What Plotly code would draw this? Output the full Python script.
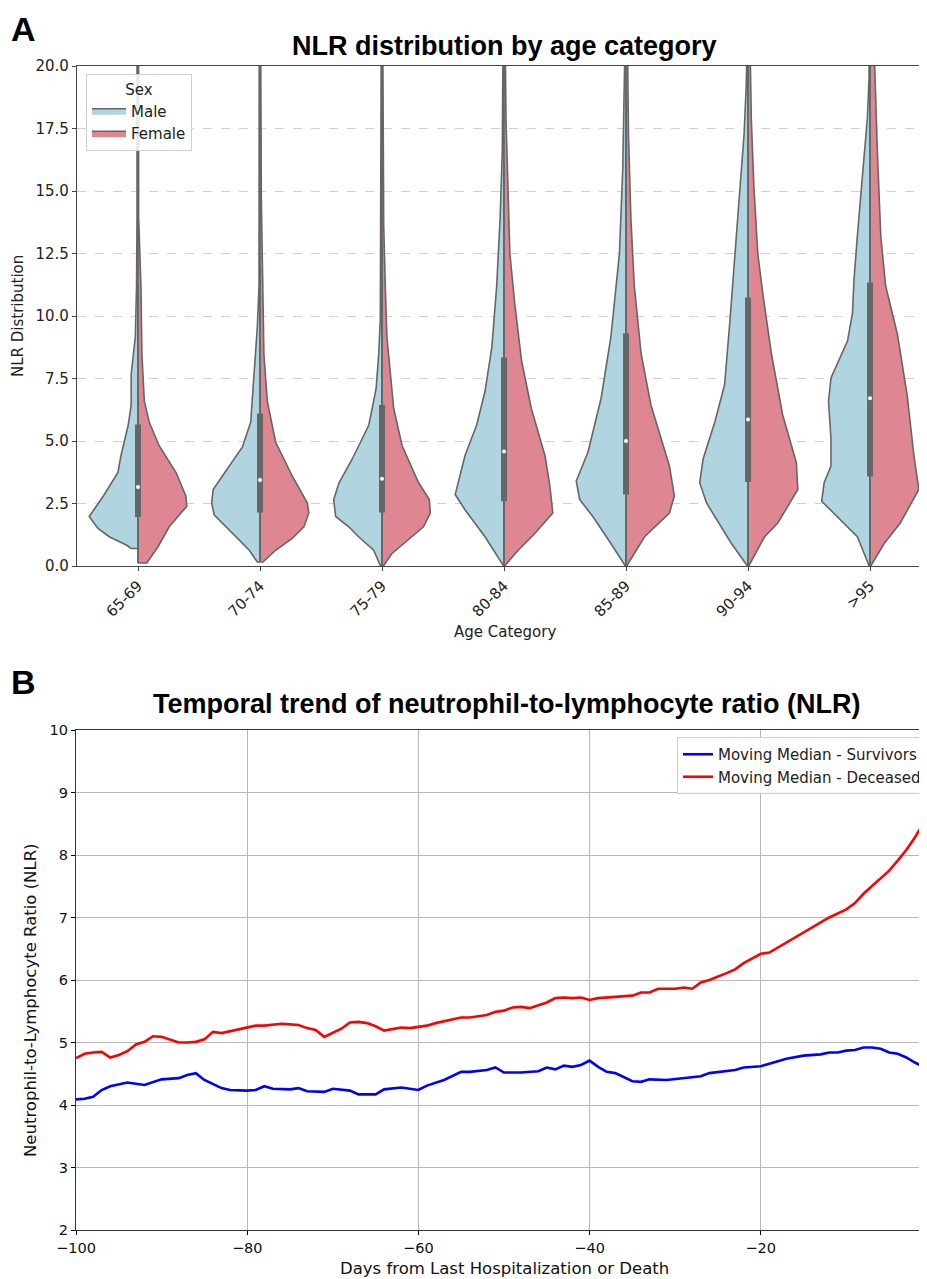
import plotly.graph_objects as go

# ---------------- Panel A data ----------------
CATEGORIES = ["65-69", "70-74", "75-79", "80-84", "85-89", "90-94", ">95"]

# density profiles (NLR value, relative density) for each half-violin
MALE_NLR = [
    [0.70, 0.84, 1.17, 1.50, 1.98, 2.8, 3.74, 4.41, 5.64, 6.44, 7.66, 8.2, 9.16, 11.2, 14.0, 21.0],
    [0.16, 0.63, 1.30, 2.05, 2.52, 3.06, 3.8, 4.76, 5.76, 6.58, 7.8, 9.56, 11.2, 21.0],
    [0.02, 0.63, 1.17, 1.57, 1.98, 2.66, 3.33, 4.28, 5.64, 7.1, 8.5, 9.84, 21.0],
    [0.02, 1.17, 2.25, 2.86, 4.41, 5.64, 6.98, 8.74, 11.2, 13.9, 16.6, 21.0],
    [0.02, 0.9, 1.98, 2.66, 3.4, 4.55, 6.71, 9.16, 12.5, 15.9, 18.6, 21.0],
    [0.02, 0.9, 2.52, 3.33, 4.28, 5.76, 7.25, 9.82, 12.5, 15.2, 17.3, 19.3, 21.0],
    [0.02, 1.17, 1.98, 2.59, 3.33, 4.0, 5.09, 6.58, 7.52, 9.01, 10.1, 11.4, 13.2, 16.6, 17.9, 19.5, 21.0],
]
MALE_DENSITY = [
    [0.14, 0.24, 0.59, 0.82, 1.0, 0.71, 0.41, 0.35, 0.20, 0.14, 0.14, 0.11, 0.055, 0.03, 0.02, 0.02],
    [0.055, 0.22, 0.57, 0.94, 0.99, 0.96, 0.70, 0.36, 0.19, 0.16, 0.12, 0.055, 0.02, 0.016],
    [0.035, 0.17, 0.48, 0.68, 0.95, 0.99, 0.88, 0.61, 0.27, 0.12, 0.067, 0.035, 0.016],
    [0.014, 0.39, 0.80, 1.0, 0.80, 0.56, 0.39, 0.25, 0.15, 0.08, 0.035, 0.02],
    [0.02, 0.31, 0.68, 0.95, 1.02, 0.78, 0.51, 0.31, 0.135, 0.067, 0.033, 0.02],
    [0.02, 0.34, 0.85, 0.99, 0.92, 0.68, 0.48, 0.37, 0.27, 0.17, 0.08, 0.035, 0.02],
    [0.02, 0.26, 0.67, 0.99, 0.94, 0.80, 0.80, 0.85, 0.80, 0.46, 0.36, 0.33, 0.26, 0.12, 0.055, 0.02, 0.016],
]
FEMALE_NLR = [
    [0.12, 0.77, 1.57, 2.12, 2.38, 2.8, 3.74, 4.82, 5.76, 6.58, 8.48, 11.2, 13.1, 14.0, 21.0],
    [0.16, 0.63, 1.1, 1.57, 2.12, 2.52, 3.6, 4.96, 6.58, 8.48, 12.5, 14.7, 21.0],
    [0.02, 0.49, 1.04, 1.57, 2.12, 2.66, 3.33, 4.82, 6.3, 7.66, 9.16, 11.2, 13.6, 21.0],
    [0.02, 0.63, 1.3, 2.12, 3.2, 4.41, 6.3, 8.2, 10.5, 12.5, 15.2, 17.9, 21.0],
    [0.02, 1.17, 2.12, 2.8, 4.0, 6.44, 8.48, 11.2, 13.9, 17.3, 21.0],
    [0.02, 1.17, 1.72, 3.06, 4.14, 6.04, 8.48, 10.8, 12.5, 15.2, 17.9, 21.0],
    [0.02, 0.9, 1.72, 3.06, 4.41, 6.85, 9.28, 11.2, 13.2, 16.6, 21.0],
]
FEMALE_DENSITY = [
    [0.18, 0.41, 0.64, 0.88, 1.0, 0.98, 0.78, 0.43, 0.23, 0.13, 0.08, 0.06, 0.027, 0.012, 0.012],
    [0.06, 0.32, 0.66, 0.90, 1.0, 0.97, 0.66, 0.32, 0.15, 0.08, 0.047, 0.027, 0.014],
    [0.035, 0.20, 0.54, 0.85, 0.99, 0.97, 0.75, 0.41, 0.24, 0.17, 0.10, 0.067, 0.035, 0.016],
    [0.02, 0.29, 0.63, 1.0, 0.94, 0.84, 0.56, 0.36, 0.22, 0.12, 0.073, 0.04, 0.025],
    [0.02, 0.38, 0.89, 0.99, 0.89, 0.51, 0.31, 0.17, 0.10, 0.05, 0.03],
    [0.02, 0.34, 0.61, 1.02, 0.99, 0.71, 0.48, 0.31, 0.20, 0.12, 0.067, 0.04],
    [0.02, 0.29, 0.62, 1.0, 0.90, 0.76, 0.56, 0.32, 0.22, 0.15, 0.08],
]
Q1 = [1.96, 2.14, 2.14, 2.59, 2.86, 3.36, 3.58]
MEDIAN = [3.16, 3.44, 3.49, 4.58, 5.00, 5.86, 6.71]
Q3 = [5.66, 6.10, 6.44, 8.34, 9.31, 10.74, 11.34]
WHISKER_LO = [0.12, 0.16, 0.02, 0.02, 0.02, 0.02, 0.02]
WHISKER_HI = [11.2, 12.0, 12.9, 16.0, 19.0, 20.0, 20.0]

# ---------------- Panel B data ----------------
DAYS_SURV = [-100, -99, -98, -97, -96, -94, -92, -90, -88, -87, -86, -85, -83, -82, -80, -79, -78,
             -77, -75, -74, -73, -71, -70, -68, -67, -65, -64, -62, -60, -59, -57, -55, -54, -52,
             -51, -50, -48, -46, -45, -44, -43, -42, -41, -40, -39, -38, -37, -36, -35, -34, -33,
             -31, -29, -28, -27, -26, -24, -23, -22, -20, -19, -17, -15, -13, -12, -11, -10, -9,
             -8, -7, -6, -5, -4, -3, -2, -1, 0]
NLR_SURV = [4.09, 4.10, 4.13, 4.24, 4.30, 4.36, 4.32, 4.41, 4.43, 4.48, 4.51, 4.40, 4.27, 4.24,
            4.23, 4.24, 4.30, 4.26, 4.25, 4.27, 4.22, 4.21, 4.26, 4.23, 4.17, 4.17, 4.25, 4.28,
            4.24, 4.31, 4.40, 4.53, 4.53, 4.56, 4.60, 4.52, 4.52, 4.54, 4.60, 4.57, 4.63, 4.61,
            4.64, 4.71, 4.61, 4.53, 4.51, 4.44, 4.38, 4.37, 4.41, 4.40, 4.43, 4.44, 4.46, 4.51,
            4.55, 4.56, 4.60, 4.62, 4.66, 4.74, 4.79, 4.81, 4.84, 4.84, 4.87, 4.88, 4.92, 4.92,
            4.90, 4.84, 4.82, 4.76, 4.68, 4.62, 4.55]
DAYS_DEC = [-100, -99, -98, -97, -96, -95, -94, -93, -92, -91, -90, -89, -88, -87, -86, -85, -84,
            -83, -82, -80, -79, -78, -77, -76, -75, -74, -73, -72, -71, -70, -69, -68, -67, -66,
            -65, -64, -63, -62, -61, -60, -59, -58, -57, -56, -55, -54, -52, -51, -50, -49, -48,
            -47, -46, -45, -44, -43, -42, -41, -40, -39, -37, -35, -34, -33, -32, -30, -29, -28,
            -27, -26, -24, -23, -22, -21, -20, -19, -18, -17, -16, -14, -13, -12, -10, -9, -8,
            -7, -6, -5, -4, -3, -2, -1, 0]
NLR_DEC = [4.75, 4.82, 4.84, 4.85, 4.76, 4.80, 4.86, 4.97, 5.01, 5.10, 5.09, 5.04, 5.00, 5.00,
           5.01, 5.05, 5.17, 5.15, 5.18, 5.24, 5.27, 5.27, 5.28, 5.30, 5.29, 5.28, 5.23, 5.20,
           5.09, 5.15, 5.22, 5.32, 5.33, 5.31, 5.26, 5.19, 5.22, 5.24, 5.23, 5.25, 5.27, 5.31,
           5.34, 5.36, 5.40, 5.40, 5.44, 5.49, 5.51, 5.56, 5.57, 5.55, 5.60, 5.64, 5.71, 5.72,
           5.71, 5.72, 5.68, 5.71, 5.73, 5.75, 5.80, 5.80, 5.86, 5.86, 5.88, 5.86, 5.96, 6.00,
           6.11, 6.17, 6.27, 6.35, 6.42, 6.44, 6.52, 6.60, 6.69, 6.84, 6.93, 7.00, 7.13, 7.23,
           7.38, 7.50, 7.62, 7.75, 7.91, 8.08, 8.28, 8.50, 8.78]

# ---------------- styles ----------------
FONT = "DejaVu Sans"
TITLE_FONT = "Liberation Sans"
MALE_COLOR = "#b1d5e0"
FEMALE_COLOR = "#de8691"
EDGE = "#666666"
HALF_WIDTH = 0.4
OFF = 8                      # page body margin
W, H = 927 - OFF, 1279 - OFF


def sx(p):  # screen column -> paper x
    return (p - OFF) / W


def sy(p):  # screen row -> paper y
    return 1 - (p - OFF) / H


fig = go.Figure()

for i, cat in enumerate(CATEGORIES):
    for side, ys_all, ds_all, color, name in [
        (-1, MALE_NLR, MALE_DENSITY, MALE_COLOR, "Male"),
        (1, FEMALE_NLR, FEMALE_DENSITY, FEMALE_COLOR, "Female"),
    ]:
        ys = ys_all[i]
        ds = ds_all[i]
        xs = [i] + [i + side * d * HALF_WIDTH for d in ds] + [i, i]
        yy = [ys[0]] + list(ys) + [ys[-1], ys[0]]
        fig.add_trace(go.Scatter(
            x=xs, y=yy, mode="lines", fill="toself", fillcolor=color,
            line=dict(color=EDGE, width=1.6), name=name, legendgroup=name,
            showlegend=(i == 0), legend="legend", xaxis="x", yaxis="y",
            hoverinfo="skip"))
    fig.add_trace(go.Scatter(x=[i, i], y=[WHISKER_LO[i], WHISKER_HI[i]], mode="lines",
                             line=dict(color=EDGE, width=1.5), showlegend=False,
                             xaxis="x", yaxis="y", hoverinfo="skip"))
    fig.add_trace(go.Scatter(x=[i, i], y=[Q1[i], Q3[i]], mode="lines",
                             line=dict(color=EDGE, width=6), showlegend=False,
                             xaxis="x", yaxis="y", hoverinfo="skip"))
    fig.add_trace(go.Scatter(x=[i], y=[MEDIAN[i]], mode="markers",
                             marker=dict(color="white", size=4), showlegend=False,
                             xaxis="x", yaxis="y", hoverinfo="skip"))

fig.add_trace(go.Scatter(x=DAYS_SURV, y=NLR_SURV, mode="lines",
                         line=dict(color="#0000ff", width=2.6),
                         name="Moving Median - Survivors", legend="legend2",
                         xaxis="x2", yaxis="y2"))
fig.add_trace(go.Scatter(x=DAYS_DEC, y=NLR_DEC, mode="lines",
                         line=dict(color="#ff0000", width=2.6),
                         name="Moving Median - Deceased", legend="legend2",
                         xaxis="x2", yaxis="y2"))

yt = [0, 2.5, 5, 7.5, 10, 12.5, 15, 17.5, 20]
xt2 = [-100, -80, -60, -40, -20]

fig.update_layout(
    width=W, height=H,
    margin=dict(l=0, r=0, t=0, b=0, autoexpand=False),
    paper_bgcolor="white", plot_bgcolor="white",
    font=dict(family=FONT, size=15, color="#222"),
    xaxis=dict(domain=[sx(77), 1], anchor="y", range=[-0.5, 6.467],
               tickvals=list(range(len(CATEGORIES))), ticktext=CATEGORIES,
               tickangle=-45, ticks="outside", ticklen=4, tickcolor="#444",
               showgrid=False, zeroline=False, showline=True, mirror=True,
               linecolor="#444", linewidth=1.3, tickfont=dict(size=15, color="#222")),
    yaxis=dict(domain=[sy(566), sy(66)], anchor="x", range=[0, 20],
               tickvals=yt, ticktext=[f"{v:.1f}" for v in yt],
               ticks="outside", ticklen=4, tickcolor="#444",
               showgrid=True, gridcolor="#d0d0d0", griddash="dash", gridwidth=1,
               zeroline=False, showline=True, mirror=True, linecolor="#444",
               linewidth=1.3, tickfont=dict(size=15, color="#222")),
    xaxis2=dict(domain=[sx(76), 1], anchor="y2", range=[-100, -0.58],
                tickvals=xt2, ticktext=["\u2212" + str(-v) for v in xt2],
                ticks="outside", ticklen=4, tickcolor="#000",
                showgrid=True, gridcolor="#b8b8b8", gridwidth=1, zeroline=False,
                showline=True, mirror=True, linecolor="#333", linewidth=1.3,
                tickfont=dict(size=14.5, color="#111")),
    yaxis2=dict(domain=[sy(1230), sy(730)], anchor="x2", range=[2, 10], dtick=1,
                ticks="outside", ticklen=4, tickcolor="#000",
                showgrid=True, gridcolor="#b8b8b8", gridwidth=1, zeroline=False,
                showline=True, mirror=True, linecolor="#333", linewidth=1.3,
                tickfont=dict(size=14.5, color="#111")),
    legend=dict(x=sx(86), y=sy(74), xanchor="left", yanchor="top",
                title=dict(text="Sex", side="top center", font=dict(size=15)),
                bgcolor="rgba(255,255,255,0.85)", bordercolor="#d0d0d0", borderwidth=1,
                font=dict(size=15, color="#222"), itemwidth=34, tracegroupgap=0),
    legend2=dict(x=1, y=sy(737), xanchor="right", yanchor="top",
                 bgcolor="rgba(255,255,255,0.85)", bordercolor="#d0d0d0", borderwidth=1,
                 font=dict(size=15, color="#222"), itemwidth=30, tracegroupgap=0),
    showlegend=True,
)

ann = [
    dict(text="<b>A</b>", x=sx(9), y=1, xanchor="left", yanchor="top",
         font=dict(family=TITLE_FONT, size=34, color="black")),
    dict(text="<b>B</b>", x=sx(9), y=sy(682), xanchor="left", yanchor="middle",
         font=dict(family=TITLE_FONT, size=34, color="black")),
    dict(text="<b>NLR distribution by age category</b>", x=sx(504), y=sy(46), xanchor="center",
         yanchor="middle", font=dict(family=TITLE_FONT, size=27, color="black")),
    dict(text="<b>Temporal trend of neutrophil-to-lymphocyte ratio (NLR)</b>", x=sx(506), y=sy(704),
         xanchor="center", yanchor="middle", font=dict(family=TITLE_FONT, size=27, color="black")),
    dict(text="Age Category", x=sx(505), y=sy(632), xanchor="center", yanchor="middle",
         font=dict(size=15, color="#222")),
    dict(text="NLR Distribution", x=sx(18), y=sy(316), xanchor="center", yanchor="middle",
         textangle=-90, font=dict(size=15, color="#222")),
    dict(text="Days from Last Hospitalization or Death", x=sx(505), y=sy(1268), xanchor="center",
         yanchor="middle", font=dict(size=16.5, color="#111")),
    dict(text="Neutrophil-to-Lymphocyte Ratio (NLR)", x=sx(30), y=sy(1000), xanchor="center",
         yanchor="middle", textangle=-90, font=dict(size=16.5, color="#111")),
]
for a in ann:
    a.update(xref="paper", yref="paper", showarrow=False)
fig.update_layout(annotations=ann)

fig.write_html("out.html")
